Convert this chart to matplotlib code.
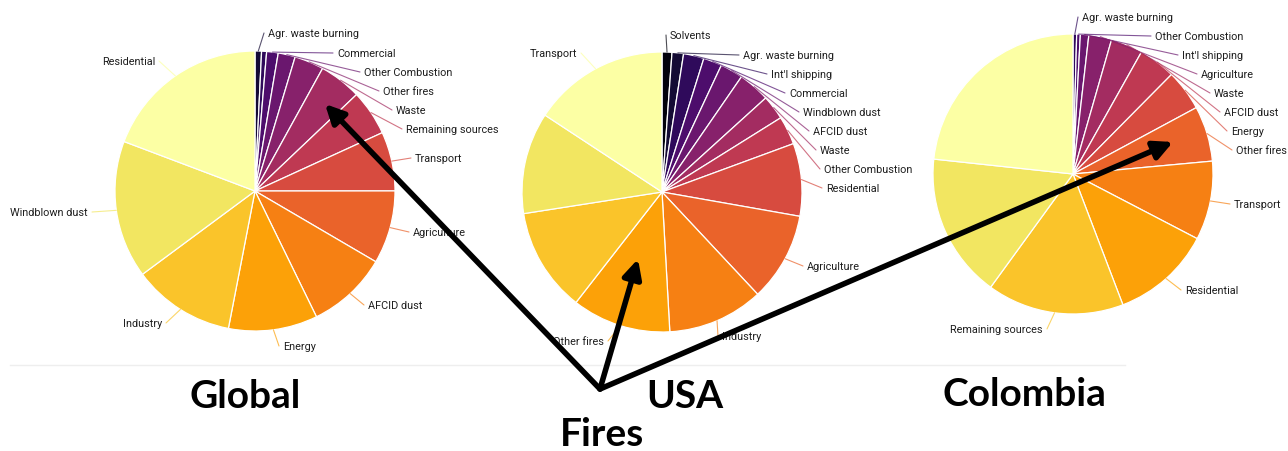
import numpy as np
import matplotlib.pyplot as plt

W, H = 1288, 452
R = 140

# --- data (percent shares, clockwise from 12 o'clock) ---
global_labels = ['Agr. waste burning', '', 'Commercial', 'Other Combustion', 'Other fires',
                 'Waste', 'Remaining sources', 'Transport', 'Agriculture', 'AFCID dust',
                 'Energy', 'Industry', 'Windblown dust', 'Residential']
global_values = [0.75, 0.58, 1.33, 1.97, 3.39, 4.89, 5.25, 6.83, 8.44, 9.33,
                 10.28, 11.81, 15.89, 19.25]

usa_labels = ['Solvents', 'Agr. waste burning', "Int'l shipping", 'Commercial',
              'Windblown dust', 'AFCID dust', 'Waste', 'Other Combustion', 'Residential',
              'Agriculture', 'Industry', 'Other fires', '', '', 'Transport']
usa_values = [1.14, 1.33, 2.36, 2.14, 2.64, 3.67, 2.83, 3.28, 8.39, 10.25,
              11.08, 11.42, 12.0, 11.72, 15.75]

col_labels = ['Agr. waste burning', 'Other Combustion', "Int'l shipping", 'Agriculture',
              'Waste', 'AFCID dust', 'Energy', 'Other fires', 'Transport', 'Residential',
              'Remaining sources', '', '']
col_values = [0.42, 0.42, 0.97, 2.64, 3.69, 4.28, 4.72, 6.39, 9.11, 11.56,
              15.81, 16.69, 23.3]

titles = ['Global', 'USA', 'Colombia']

# --- layout (image pixel coords, y down) ---
centers = [(255, 192), (662, 193), (1073, 175)]
label_pos = [
    [(268, 34, 'left'), None, (337, 54, 'left'), (364, 73, 'left'), (383, 92, 'left'),
     (396, 111, 'left'), (406, 130, 'left'), (415, 159, 'left'), (413, 233, 'left'),
     (368, 306, 'left'), (283, 347, 'left'), (162, 324, 'right'), (88, 213, 'right'),
     (155, 62, 'right')],
    [(670, 36, 'left'), (743, 56, 'left'), (771, 75, 'left'), (789, 94, 'left'),
     (803, 113, 'left'), (813, 132, 'left'), (820, 151, 'left'), (824, 170, 'left'),
     (826, 189, 'left'), (807, 267, 'left'), (722, 337, 'left'), (604, 342, 'right'),
     None, None, (577, 54, 'right')],
    [(1082, 18, 'left'), (1155, 37, 'left'), (1182, 56, 'left'), (1201, 75, 'left'),
     (1214, 94, 'left'), (1224, 113, 'left'), (1231, 132, 'left'), (1236, 151, 'left'),
     (1234, 205, 'left'), (1185, 291, 'left'), (1043, 330, 'right'), None, None],
]
title_pos = [(245, 397), (685, 397), (1024, 395)]

fig = plt.figure(figsize=(W / 100, H / 100), dpi=100)
ax = fig.add_axes([0, 0, 1, 1])

pies = [(global_labels, global_values), (usa_labels, usa_values), (col_labels, col_values)]
for k, (labels, values) in enumerate(pies):
    n = len(values)
    cols = plt.cm.inferno([1 - 0.07 * (n - 1 - i) for i in range(n)])
    cx, cy = centers[k]
    ax.pie(values, colors=cols, startangle=90, counterclock=False,
           center=(cx, H - cy), radius=R,
           wedgeprops=dict(edgecolor='white', linewidth=0.9))
    cum = np.cumsum([0] + values[:-1])
    for i, lab in enumerate(labels):
        if not lab or label_pos[k][i] is None:
            continue
        tx, ty, ha = label_pos[k][i]
        ang = np.deg2rad(90 - (cum[i] + values[i] / 2) * 3.6)
        px, py = cx + R * np.cos(ang), (H - cy) + R * np.sin(ang)
        ex = tx - 4 if ha == 'left' else tx + 4
        ax.plot([px, ex], [py, H - ty], color=cols[i], lw=0.8, alpha=0.7,
                solid_capstyle='round')
        ax.text(tx, H - ty, lab, ha=ha, va='center', fontsize=7.8,
                family='Roboto', color='#1e1e1e')

for t, (x, y) in zip(titles, title_pos):
    ax.text(x, H - y, t, ha='center', va='center', fontsize=28,
            family='Lato', fontweight='bold', color='black')
ax.text(602, H - 435, 'Fires', ha='center', va='center', fontsize=28,
        family='Lato', fontweight='bold', color='black')

# faint baseline of the screenshots
ax.plot([10, 1125], [H - 366, H - 366], color='#eeeeee', lw=1)

# arrows
start = (600, 390)
tips = [(325, 105), (638, 260), (1173, 143)]
for tx, ty in tips:
    ax.annotate('', xy=(tx, H - ty), xytext=(start[0], H - start[1]),
                arrowprops=dict(arrowstyle='-|>', lw=4, color='black',
                                mutation_scale=28, shrinkA=0, shrinkB=0))

ax.set_xlim(0, W)
ax.set_ylim(0, H)
ax.set_aspect('equal')
ax.axis('off')
fig.savefig('out.png', dpi=100, facecolor='white')
